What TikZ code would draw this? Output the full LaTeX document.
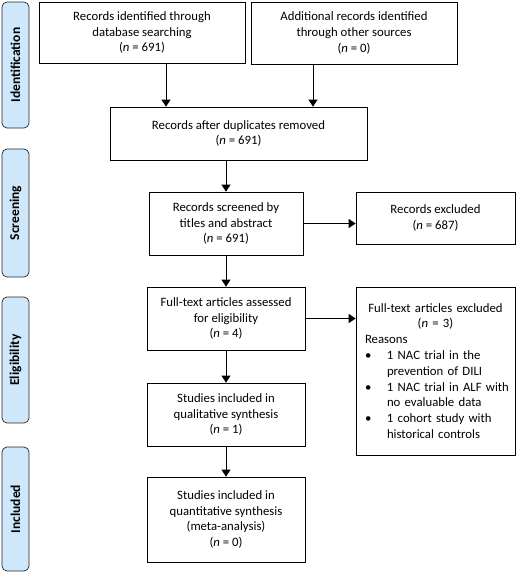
\documentclass[tikz,border=0pt]{standalone}
\usepackage{fontspec}
\setmainfont{Carlito}
\usetikzlibrary{arrows.meta}

\definecolor{phaseblue}{RGB}{206,231,250}
\newcommand{\boxfont}{\fontsize{12.75}{15.8}\selectfont}
\newcommand{\phasefont}{\fontsize{13.5}{16}\selectfont\bfseries}
\newcommand{\reason}[2]{\par\makebox[22pt][l]{\textbullet}\mbox{#1}\\\hspace*{22pt}\mbox{#2}}

\begin{document}
\begin{tikzpicture}[x=1pt, y=-1pt,
  box/.style={draw, line width=0.7pt, align=center, inner sep=2pt, font=\boxfont},
  phase/.style={draw=black!85, fill=phaseblue, rounded corners=5pt, line width=0.7pt,
    rotate=90, minimum height=27pt, inner sep=0pt, font=\phasefont},
  arr/.style={-{Triangle[length=7pt,width=9pt]}, line width=0.7pt}]
  \useasboundingbox (0,0) rectangle (516,573);

  % phase labels on the left
  \node[phase, minimum width=126pt] (ident) at (15.5,65) {Identification};
  \node[phase, minimum width=128pt] (screen) at (15.5,213) {Screening};
  \node[phase, minimum width=126pt] (elig) at (15.5,360) {Eligibility};
  \node[phase, minimum width=124pt] (incl) at (15.5,509) {Included};

  % flow boxes
  \node[box, minimum width=206pt, minimum height=61pt] (dbase) at (142,32.5)
    {Records identified through\\database searching\\(\textit{n} = 691)};
  \node[box, minimum width=206pt, minimum height=62pt] (other) at (354,33)
    {Additional records identified\\through other sources\\(\textit{n} = 0)};
  \node[box, minimum width=257pt, minimum height=53pt] (dupl) at (238.5,133.5)
    {Records after duplicates removed\\(\textit{n} = 691)};
  \node[box, minimum width=154pt, minimum height=63pt] (screened) at (226,223.5)
    {Records screened by\\titles and abstract\\(\textit{n} = 691)};
  \node[box, minimum width=159pt, minimum height=52pt] (excl) at (435.5,218)
    {Records excluded\\(\textit{n} = 687)};
  \node[box, minimum width=158pt, minimum height=63pt] (fulltext) at (226,318.5)
    {Full-text articles assessed\\for eligibility\\(\textit{n} = 4)};
  \node[box, align=left, text width=141pt, inner xsep=9pt, minimum height=168pt] (ftexcl) at (435.5,371)
    {{\centering Full-text articles excluded\\(\textit{n} = 3)\par}
     Reasons
     \reason{1 NAC trial in the}{prevention of DILI}
     \reason{1 NAC trial in ALF with}{no evaluable data}
     \reason{1 cohort study with}{historical controls}};
  \node[box, minimum width=158pt, minimum height=63pt] (qual) at (226,414.5)
    {Studies included in\\qualitative synthesis\\(\textit{n} = 1)};
  \node[box, minimum width=158pt, minimum height=85pt] (quant) at (226,519.5)
    {Studies included in\\quantitative synthesis\\(meta-analysis)\\(\textit{n} = 0)};

  % arrows
  \coordinate (in1) at ([xshift=-72.5pt]dupl.north);
  \coordinate (in2) at ([xshift=74.5pt]dupl.north);
  \draw[arr] (dbase.south -| in1) -- (in1);
  \draw[arr] (other.south -| in2) -- (in2);
  \draw[arr] (dupl.south -| screened.north) -- (screened.north);
  \draw[arr] (screened.east) -- (screened.east -| excl.west);
  \draw[arr] (screened.south) -- (screened.south |- fulltext.north);
  \draw[arr] (fulltext.east) -- (fulltext.east -| ftexcl.west);
  \draw[arr] (fulltext.south) -- (fulltext.south |- qual.north);
  \draw[arr] (qual.south) -- (qual.south |- quant.north);
\end{tikzpicture}
\end{document}
